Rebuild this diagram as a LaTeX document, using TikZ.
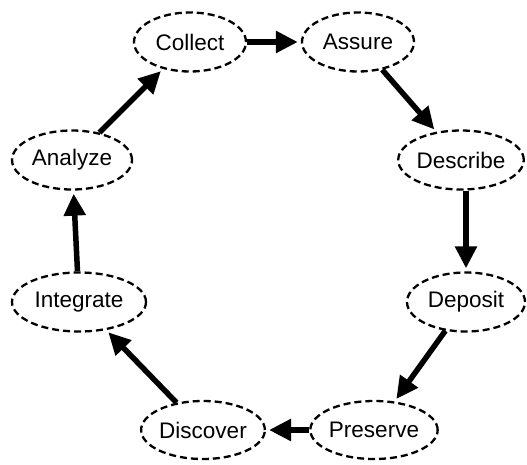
\documentclass[tikz,border=0pt]{standalone}
\usepackage{fontspec}
\setmainfont{Liberation Sans}
\usetikzlibrary{shapes.geometric,arrows.meta}
\begin{document}
\begin{tikzpicture}[x=1pt,y=-1pt,
  stage/.style={ellipse,draw,line width=2.3pt,dash pattern=on 7pt off 4pt,inner sep=0pt,minimum height=59pt,font=\fontsize{22.5}{26}\selectfont},
  flow/.style={line width=5.5pt,-{Triangle[length=22pt,width=21pt]},shorten >=3pt}]
\useasboundingbox (0,0) rectangle (527,464);
\node[stage,minimum width=112pt] (collect) at (190,42) {Collect};
\node[stage,minimum width=112pt] (assure) at (358,42) {Assure};
\node[stage,minimum width=124pt] (describe) at (461,160) {Describe};
\node[stage,minimum width=118pt] (deposit) at (466,302) {Deposit};
\node[stage,minimum width=124pt,minimum height=58pt] (preserve) at (374,430) {Preserve};
\node[stage,minimum width=120pt,minimum height=58pt] (discover) at (203,430) {Discover};
\node[stage,minimum width=134pt] (integrate) at (79,302) {Integrate};
\node[stage,minimum width=120pt] (analyze) at (72,160) {Analyze};
\draw[flow] (collect) -- (assure);
\draw[flow] (assure) -- (describe);
\draw[flow] (describe.south -| 466,0) -- (deposit.north -| 466,0);
\draw[flow] (deposit) -- (preserve);
\draw[flow] (preserve) -- (discover);
\draw[flow] (discover) -- (integrate);
\draw[flow] (integrate) -- (analyze);
\draw[flow] (analyze) -- (collect);
\end{tikzpicture}
\end{document}
